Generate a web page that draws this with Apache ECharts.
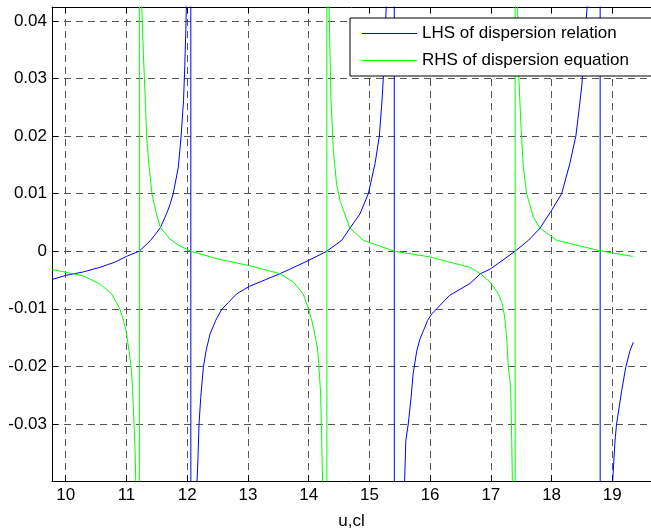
<!DOCTYPE html>
<html>
<head>
<meta charset="utf-8">
<script src="https://cdn.jsdelivr.net/npm/echarts@6/dist/echarts.min.js"></script>
<style>html,body{margin:0;padding:0;background:#fff}#c{width:651px;height:532px}</style>
</head>
<body>
<div id="c"></div>
<script>
// LHS of dispersion relation (blue); +/-1 are off-scale values at the poles
const lhsU = [9.78, 10.0, 10.29, 10.565, 10.81, 11.0, 11.21, 11.40, 11.56, 11.66, 11.717, 11.77, 11.854, 11.90, 11.94, 11.96, 11.976, 11.988, 12.055,
  12.065, 12.158, 12.178, 12.195, 12.223, 12.266, 12.31, 12.376, 12.47, 12.569, 12.678, 12.816, 13.023, 13.53, 14.0, 14.30, 14.545, 14.68, 14.846, 14.983, 15.093, 15.164, 15.208, 15.24, 15.258, 15.28, 15.405,
  15.415, 15.577, 15.60, 15.64, 15.686, 15.72, 15.78, 15.834, 15.89, 15.96, 16.027, 16.164, 16.317, 16.657, 16.83, 16.99, 17.15, 17.40, 17.62, 17.81, 18.0, 18.167, 18.30, 18.40, 18.457, 18.50, 18.53, 18.56, 18.59, 18.795,
  18.805, 19.0, 19.045, 19.07, 19.155, 19.22, 19.29, 19.346];
const lhsV = [-0.0049, -0.0042, -0.0036, -0.0028, -0.0019, -0.0009, 0.0, 0.0019, 0.0041, 0.0065, 0.0081, 0.0100, 0.0146, 0.0200, 0.0262, 0.0320, 0.0378, 0.0430, 1,
  -1, -0.0410, -0.0358, -0.0300, -0.0254, -0.0202, -0.0173, -0.0144, -0.0120, -0.0101, -0.0089, -0.0074, -0.0061, -0.0039, -0.0016, 0.0, 0.0019, 0.0040, 0.0065, 0.0100, 0.0152, 0.0200, 0.0262, 0.0320, 0.0378, 0.0430, 1,
  -1, -0.0410, -0.0329, -0.0300, -0.0254, -0.0213, -0.0173, -0.0152, -0.0138, -0.0120, -0.0109, -0.0094, -0.0077, -0.0056, -0.0039, -0.0031, -0.0019, 0.0, 0.0019, 0.0040, 0.0071, 0.0100, 0.0152, 0.0200, 0.0250, 0.0290, 0.0340, 0.0390, 0.0430, 1,
  -1, -0.0410, -0.0329, -0.0300, -0.0242, -0.0202, -0.0173, -0.0158];

// RHS of dispersion equation (green)
const rhsU = [9.78, 10.07, 10.29, 10.565, 10.757, 10.894, 10.949, 10.993, 11.042, 11.064, 11.087, 11.10, 11.113, 11.141, 11.155, 11.207,
  11.217, 11.25, 11.28, 11.31, 11.335, 11.37, 11.42, 11.48, 11.56, 11.717, 11.85, 12.06, 12.486, 13.023, 13.53, 13.75, 13.91, 14.0, 14.05, 14.09, 14.12, 14.15, 14.17, 14.198, 14.215, 14.232, 14.295,
  14.305, 14.335, 14.35, 14.368, 14.406, 14.46, 14.516, 14.68, 14.90, 15.41, 16.0, 16.317, 16.657, 16.83, 16.99, 17.123, 17.18, 17.206, 17.234, 17.26, 17.288, 17.316, 17.327, 17.344, 17.356, 17.395,
  17.405, 17.44, 17.46, 17.497, 17.535, 17.59, 17.70, 17.81, 18.085, 18.744, 19.0, 19.336];
const rhsV = [-0.0032, -0.0038, -0.0043, -0.0057, -0.0074, -0.0101, -0.0120, -0.0138, -0.0173, -0.0190, -0.0213, -0.0242, -0.0271, -0.0341, -0.0410, -1,
  1, 0.0430, 0.0340, 0.0262, 0.0195, 0.0150, 0.0100, 0.0070, 0.0041, 0.0021, 0.0011, 0.0, -0.0013, -0.0025, -0.0039, -0.0054, -0.0074, -0.0101, -0.0120, -0.0138, -0.0155, -0.0173, -0.0202, -0.0248, -0.0329, -0.0410, -1,
  1, 0.0430, 0.0349, 0.0262, 0.0175, 0.0117, 0.0088, 0.0040, 0.0019, 0.0, -0.0010, -0.0019, -0.0028, -0.0039, -0.0054, -0.0074, -0.0089, -0.0101, -0.0120, -0.0150, -0.0202, -0.0225, -0.0242, -0.0329, -0.0410, -1,
  1, 0.0430, 0.0303, 0.0216, 0.0146, 0.0100, 0.0059, 0.0040, 0.0019, 0.0002, -0.0003, -0.0009];

const xRange = [9.774, 19.637];
const yRange = [-0.0399, 0.0424];
const seriesNames = ['LHS of dispersion relation', 'RHS of dispersion equation'];

const pairs = (u, v) => u.map((x, i) => [x, v[i]]);
const FONT = 'Liberation Sans, Arial, Helvetica, sans-serif';

const chart = echarts.init(document.getElementById('c'), null, {renderer: 'canvas'});
const gridLine = {show: true, showMinLine: false, showMaxLine: false, lineStyle: {color: '#555', width: 1, type: [7, 5]}};
chart.setOption({
  animation: false,
  backgroundColor: '#fff',
  grid: {left: 52, top: 7, right: 0, bottom: 51, containLabel: false, outerBoundsMode: 'none'},
  legend: {
    orient: 'vertical', left: 350, top: 18,
    padding: [7, 24, 7, 12], itemGap: 10, itemWidth: 55, itemHeight: 1, icon: 'rect',
    backgroundColor: '#fff', borderColor: '#000', borderWidth: 1, borderRadius: 0,
    textStyle: {color: '#000', fontSize: 17, fontFamily: FONT},
    data: seriesNames
  },
  xAxis: [{
    type: 'value', min: xRange[0], max: xRange[1], splitNumber: 10, minInterval: 1, maxInterval: 1,
    name: 'u,cl', nameLocation: 'middle', nameGap: 32,
    nameTextStyle: {color: '#000', fontSize: 17, fontFamily: FONT},
    axisLine: {show: true, onZero: false, lineStyle: {color: '#000', width: 1}},
    axisTick: {show: true, inside: true, length: 6, lineStyle: {color: '#000'}},
    axisLabel: {color: '#000', fontSize: 17, fontFamily: FONT, margin: 6, showMinLabel: false, showMaxLabel: false},
    splitLine: gridLine
  }, {
    type: 'value', position: 'top', min: xRange[0], max: xRange[1], splitNumber: 10, minInterval: 1, maxInterval: 1,
    axisLine: {show: true, onZero: false, lineStyle: {color: '#000', width: 1}},
    axisTick: {show: true, inside: true, length: 6, lineStyle: {color: '#000'}},
    axisLabel: {show: false}, splitLine: {show: false}
  }],
  yAxis: [{
    type: 'value', min: yRange[0], max: yRange[1], splitNumber: 8, minInterval: 0.01, maxInterval: 0.01,
    axisLine: {show: true, onZero: false, lineStyle: {color: '#000', width: 1}},
    axisTick: {show: true, inside: true, length: 6, lineStyle: {color: '#000'}},
    axisLabel: {color: '#000', fontSize: 17, fontFamily: FONT, margin: 5, showMinLabel: false, showMaxLabel: false},
    splitLine: gridLine
  }],
  series: [{
    name: seriesNames[0], type: 'line', data: pairs(lhsU, lhsV), symbol: 'none', showSymbol: false,
    clip: true, sampling: false, lineStyle: {color: '#0000ff', width: 1}, itemStyle: {color: '#0000ff'},
    emphasis: {disabled: true}
  }, {
    name: seriesNames[1], type: 'line', data: pairs(rhsU, rhsV), symbol: 'none', showSymbol: false,
    clip: true, sampling: false, lineStyle: {color: '#00ff00', width: 1}, itemStyle: {color: '#00ff00'},
    emphasis: {disabled: true}
  }]
});
</script>
</body>
</html>
